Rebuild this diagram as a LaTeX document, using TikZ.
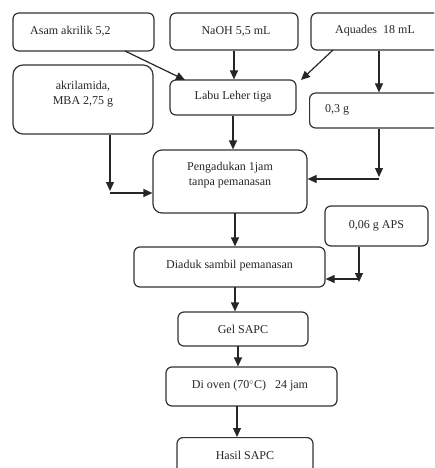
\documentclass[tikz,border=0pt]{standalone}
\usepackage{fontspec}
\setmainfont{Liberation Serif}
\usetikzlibrary{arrows.meta,calc}
\begin{document}
\begin{tikzpicture}[x=1pt,y=-1pt,
  box/.style={draw=black!80,line width=1.2pt,rounded corners=6pt,minimum width=#1,inner sep=0pt},
  box/.default=100pt,
  txt/.style={text=black!85,font=\fontsize{12}{14.5}\selectfont,inner sep=0pt,align=center},
  arr/.style={draw=black!85,line width=1.2pt,-{Triangle[length=9pt,width=8pt]}},
  ln/.style={draw=black!85,line width=1.2pt}]
\useasboundingbox (0,0) rectangle (434,468);
\clip (0,0) rectangle (434,468);
% boxes
\node[box=141pt,minimum height=38pt] (asam) at (83.5,32) {};
\node[txt,anchor=west] (asamt) at (30,31) {Asam akrilik 5,2};
\node[box=128pt,minimum height=37pt] (naoh) at (234,31.5) {};
\node[txt] (naoht) at (236,31) {NaOH 5,5 mL};
\node[box=136pt,minimum height=37pt] (aq) at (379,31.5) {};
\node[txt] (aqt) at (375,31) {Aquades\ \ 18 mL};
\node[box=140pt,minimum height=69pt,rounded corners=10pt] (akr) at (83,99.5) {};
\node[txt] (akrt) at (83,94) {akrilamida,\\MBA 2,75 g};
\node[box=126pt,minimum height=35pt] (labu) at (233,97.5) {};
\node[txt] (labut) at (233,97) {Labu Leher tiga};
\node[box=150pt,minimum height=35pt,anchor=west] (ozt) at (309,110.5) {};
\node[txt,anchor=west] (ozt-t) at (325,110) {0,3 g};
\node[box=154pt,minimum height=63pt,rounded corners=9pt] (peng) at (230,181.5) {};
\node[txt] (pengt) at (230,175) {Pengadukan 1jam\\tanpa pemanasan};
\node[box=103pt,minimum height=40pt] (aps) at (376.5,226) {};
\node[txt] (apst) at (376.5,226) {0,06 g APS};
\node[box=191pt,minimum height=40pt] (diad) at (229.5,267) {};
\node[txt] (diadt) at (229.5,266) {Diaduk sambil pemanasan};
\node[box=130pt,minimum height=34pt] (gel) at (243,329) {};
\node[txt] (gelt) at (243,329) {Gel SAPC};
\node[box=171pt,minimum height=39pt] (oven) at (251.5,386.5) {};
\node[txt] (ovent) at (250,386) {Di oven (70$^{\circ}$C)\ \ \ 24 jam};
\node[box=136pt,minimum height=40pt,anchor=north] (hasil) at (245,437) {};
\node[txt] (hasilt) at (245,455) {Hasil SAPC};
% junction / end points
\coordinate (a1) at (125,51);
\coordinate (a2) at (185,80);
\coordinate (q1) at (333,50);
\coordinate (q2) at (301,80);
\coordinate (c1) at (110,193);
\coordinate (c2) at (379,179);
\coordinate (c3) at (359,279);
\coordinate (p1) at (235,213);
\coordinate (d1) at (235,287);
\coordinate (g1) at (238,346);
\coordinate (o1) at (237,406);
% connectors
\draw[arr] (a1) -- (a2);
\draw[arr] (naoh.south) -- (naoh.south |- labu.north);
\draw[arr] (q1) -- (q2);
\draw[arr] (aq.south) -- (aq.south |- ozt.north);
\draw[arr] (labu.south) -- (labu.south |- peng.north);
\draw[arr] (akr.south -| c1) -- ($(c1)+(0,-2)$);
\draw[arr] (c1) -- (c1 -| peng.west);
\draw[arr] (ozt.south -| c2) -- ($(c2)+(0,-2)$);
\draw[arr] (c2) -- (c2 -| peng.east);
\draw[arr] (p1) -- (p1 |- diad.north);
\draw[arr] (aps.south -| c3) -- ($(c3)+(0,3)$);
\draw[arr] (c3) -- (c3 -| diad.east);
\draw[arr] (d1) -- (d1 |- gel.north);
\draw[arr] (g1) -- (g1 |- oven.north);
\draw[arr] (o1) -- (o1 |- hasil.north);
\end{tikzpicture}
\end{document}
